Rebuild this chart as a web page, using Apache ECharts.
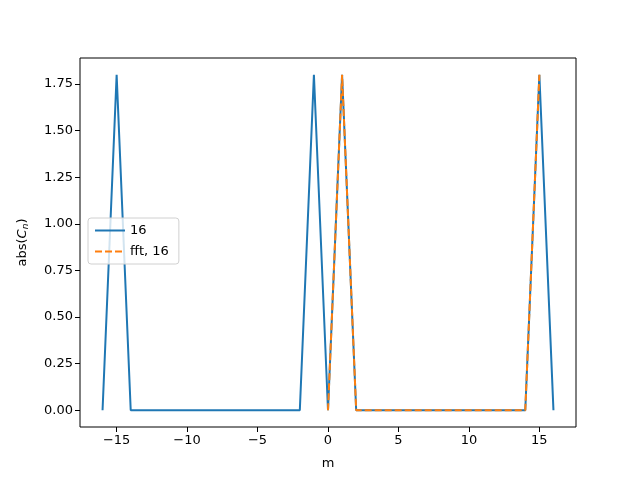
<!DOCTYPE html>
<html>
<head>
  <meta charset="utf-8" />
  <title>ECharts</title>
  <script src="https://cdn.jsdelivr.net/npm/echarts@6/dist/echarts.min.js"></script>
  <style>
    html, body {
      height: 100%;
      margin: 0;
      padding: 0;
      background: #ffffff;
    }

    #main {
      width: 640px;
      height: 480px;
    }
  </style>
</head>
<body>
  <div id="main"></div>

  <script type="text/javascript">
    // m values and |C_n| for the direct sum (16 terms)
    const mDirect = [-16, -15, -14, -13, -12, -11, -10, -9, -8, -7, -6, -5, -4, -3, -2, -1,
      0, 1, 2, 3, 4, 5, 6, 7, 8, 9, 10, 11, 12, 13, 14, 15, 16];
    const absDirect = [0, 1.8, 0, 0, 0, 0, 0, 0, 0, 0, 0, 0, 0, 0, 0, 1.8,
      0, 1.8, 0, 0, 0, 0, 0, 0, 0, 0, 0, 0, 0, 0, 0, 1.8, 0];

    // m values and |C_n| from the fft (16 points)
    const mFft = [0, 1, 2, 3, 4, 5, 6, 7, 8, 9, 10, 11, 12, 13, 14, 15];
    const absFft = [0, 1.8, 0, 0, 0, 0, 0, 0, 0, 0, 0, 0, 0, 0, 0, 1.8];

    const xTicks = [-15, -10, -5, 0, 5, 10, 15];
    const yTicks = [0, 0.25, 0.5, 0.75, 1.0, 1.25, 1.5, 1.75];

    const chartDom = document.getElementById('main');
    const myChart = echarts.init(chartDom, null, { renderer: 'canvas' });

    const font = 'DejaVu Sans';

    const option = {
      animation: false,
      textStyle: { fontFamily: font },
      grid: {
        left: 80,
        right: 64,
        top: 58,
        bottom: 53,
        show: true,
        borderColor: '#000',
        borderWidth: 1,
        backgroundColor: 'transparent'
      },
      legend: {
        orient: 'vertical',
        left: 88,
        top: 218,
        itemWidth: 30,
        itemHeight: 14,
        itemGap: 8,
        padding: [6, 10, 6, 6],
        borderColor: '#d0d0d0',
        borderWidth: 1,
        borderRadius: 3,
        backgroundColor: 'rgba(255,255,255,0.8)',
        itemStyle: { color: 'transparent', borderWidth: 0, opacity: 0 },
        textStyle: { fontFamily: font, fontSize: 13, color: '#000' },
        data: ['16', 'fft, 16']
      },
      xAxis: {
        type: 'value',
        min: -17.6,
        max: 17.6,
        name: 'm',
        nameLocation: 'middle',
        nameGap: 30,
        nameTextStyle: { fontFamily: font, fontSize: 13, color: '#000' },
        axisLine: { show: false, onZero: false },
        splitLine: { show: false },
        axisTick: {
          show: true,
          inside: false,
          length: 5,
          lineStyle: { color: '#000' },
          customValues: xTicks
        },
        axisLabel: {
          fontFamily: font,
          fontSize: 13,
          color: '#000',
          margin: 7,
          customValues: xTicks,
          formatter: v => String(v).replace('-', '\u2212')
        }
      },
      yAxis: {
        type: 'value',
        min: -0.09,
        max: 1.89,
        name: '{t|abs(}{i|C}{s|n}{t|)}',
        nameLocation: 'middle',
        nameGap: 50,
        nameRotate: 90,
        nameTextStyle: {
          fontFamily: font,
          fontSize: 13,
          color: '#000',
          rich: {
            t: { fontFamily: font, fontSize: 13, color: '#000' },
            i: { fontFamily: font, fontSize: 13, fontStyle: 'italic', color: '#000' },
            s: { fontFamily: font, fontSize: 9, fontStyle: 'italic', color: '#000', verticalAlign: 'bottom', padding: [6, 0, 0, 0] }
          }
        },
        axisLine: { show: false, onZero: false },
        splitLine: { show: false },
        axisTick: {
          show: true,
          inside: false,
          length: 5,
          lineStyle: { color: '#000' },
          customValues: yTicks
        },
        axisLabel: {
          fontFamily: font,
          fontSize: 13,
          color: '#000',
          margin: 7,
          customValues: yTicks,
          formatter: v => v.toFixed(2)
        }
      },
      series: [
        {
          name: '16',
          type: 'line',
          symbol: 'none',
          lineStyle: { color: '#1f77b4', width: 2 },
          itemStyle: { color: '#1f77b4' },
          data: mDirect.map((m, i) => [m, absDirect[i]])
        },
        {
          name: 'fft, 16',
          type: 'line',
          symbol: 'none',
          lineStyle: { color: '#ff7f0e', width: 2, type: [7, 3] },
          itemStyle: { color: '#ff7f0e' },
          data: mFft.map((m, i) => [m, absFft[i]])
        }
      ]
    };

    myChart.setOption(option);
  </script>
</body>
</html>
